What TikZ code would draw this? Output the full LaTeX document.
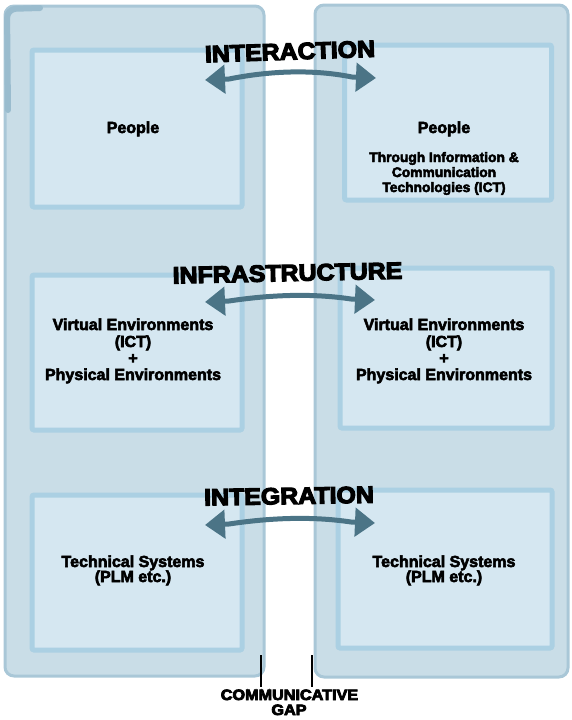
\documentclass[tikz,border=0pt]{standalone}
\usepackage{fontspec}
\setmainfont{Liberation Sans}[BoldFeatures={FakeBold=3.5}]
\newfontfamily\titlefont{Liberation Sans}[BoldFeatures={FakeBold=5}]
\usetikzlibrary{arrows.meta}
\definecolor{panelfill}{HTML}{C9DDE7}
\definecolor{panelline}{HTML}{A9C7D7}
\definecolor{paneldark}{HTML}{9ABCCE}
\definecolor{boxfill}{HTML}{D5E7F1}
\definecolor{boxline}{HTML}{ABD0E3}
\definecolor{arrowc}{HTML}{4B7486}
\begin{document}
\begin{tikzpicture}[x=1pt,y=-1pt,
  panel/.style={fill=panelfill, draw=panelline, line width=3pt, rounded corners=9pt},
  box/.style={fill=boxfill, draw=boxline, line width=5pt, rounded corners=2pt, inner sep=0pt, outer sep=0pt},
  lbl/.style={font=\bfseries\fontsize{16}{17}\selectfont, inner sep=0pt, anchor=base},
  sub/.style={font=\bfseries\fontsize{13.8}{15}\selectfont, inner sep=0pt, anchor=base},
  ttl/.style={font=\titlefont\bfseries\fontsize{23.5}{26}\selectfont, inner sep=0pt, xscale=1.06},
  gaptxt/.style={font=\titlefont\bfseries\fontsize{15}{15}\selectfont, inner sep=0pt, anchor=base, xscale=1.08},
  link/.style={arrowc, line width=5pt, {Triangle[width=28pt,length=20pt]}-{Triangle[width=28pt,length=20pt]}},
  gapline/.style={black, line width=1.2pt}]
\useasboundingbox (0,0) rectangle (571,720);

% panels
\path[panel] (5,6) rectangle (264,676);
\path[panel] (315,5) rectangle (568,677);
\draw[paneldark, line width=6pt, rounded corners=9pt, line cap=round] (8,110) -- (7,9) -- (40,8);

% inner boxes
\node[box, minimum width=210pt, minimum height=157pt] (b1l) at (137,128.5) {};
\node[box, minimum width=207pt, minimum height=155pt] (b1r) at (448,122.5) {};
\node[box, minimum width=210pt, minimum height=155pt] (b2l) at (137,352.5) {};
\node[box, minimum width=212pt, minimum height=160pt] (b2r) at (446,348) {};
\node[box, minimum width=210pt, minimum height=155pt] (b3l) at (137,572.5) {};
\node[box, minimum width=214pt, minimum height=158pt] (b3r) at (445,569) {};

% texts
\node[lbl] (t1l) at (133,133) {People};
\node[lbl] (t1r) at (444,133) {People};
\node[sub] (t1r2) at (444,162) {Through Information \&};
\node[sub] (t1r3) at (444,177) {Communication};
\node[sub] (t1r4) at (444,192) {Technologies (ICT)};

\node[lbl] (t2l1) at (133,330) {Virtual Environments};
\node[lbl] (t2l2) at (133,347) {(ICT)};
\node[lbl] (t2l3) at (133,363.5) {+};
\node[lbl] (t2l4) at (133,380) {Physical Environments};
\node[lbl] (t2r1) at (444,330) {Virtual Environments};
\node[lbl] (t2r2) at (444,347) {(ICT)};
\node[lbl] (t2r3) at (444,363.5) {+};
\node[lbl] (t2r4) at (444,380) {Physical Environments};

\node[lbl] (t3l1) at (133,567) {Technical Systems};
\node[lbl] (t3l2) at (133,582) {(PLM etc.)};
\node[lbl] (t3r1) at (444,567) {Technical Systems};
\node[lbl] (t3r2) at (444,582) {(PLM etc.)};

% titles
\node[ttl, rotate=2] (h1) at (290,51.5) {INTERACTION};
\node[ttl, rotate=1.3] (h2) at (287.5,273) {INFRASTRUCTURE};
\node[ttl, rotate=1] (h3) at (289,496) {INTEGRATION};

% arrows
\coordinate (a1l) at (205,80);
\coordinate (a1r) at (376,78);
\coordinate (a2l) at (205,302);
\coordinate (a2r) at (375,300);
\coordinate (a3l) at (205,525);
\coordinate (a3r) at (375,523);
\draw[link] (a1l) -- ++(24,-1) .. controls +(40,-8) and +(-40,-8) .. ([xshift=-24pt,yshift=1pt]a1r) -- (a1r);
\draw[link] (a2l) -- ++(24,-1) .. controls +(40,-6) and +(-40,-6) .. ([xshift=-24pt,yshift=1pt]a2r) -- (a2r);
\draw[link] (a3l) -- ++(24,-1) .. controls +(40,-6) and +(-40,-6) .. ([xshift=-24pt,yshift=1pt]a3r) -- (a3r);

% communicative gap
\coordinate (g1t) at (261,655);
\coordinate (g1b) at (261,687);
\coordinate (g2t) at (312,655);
\coordinate (g2b) at (312,687);
\draw[gapline] (g1t) -- (g1b);
\draw[gapline] (g2t) -- (g2b);
\node[gaptxt] (gap1) at (289.5,700) {COMMUNICATIVE};
\node[gaptxt] (gap2) at (289,715) {GAP};
\end{tikzpicture}
\end{document}
